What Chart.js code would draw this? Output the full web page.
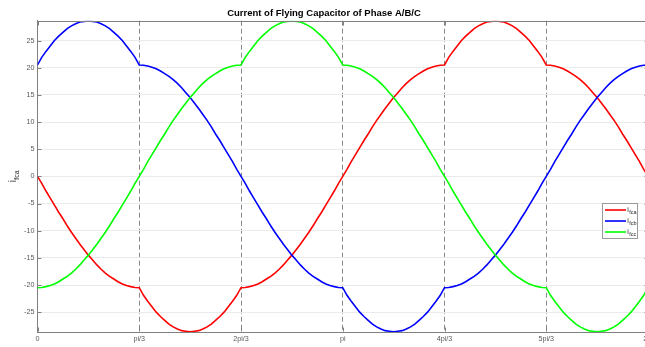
<!DOCTYPE html>
<html>
<head>
<meta charset="utf-8">
<title>Current of Flying Capacitor of Phase A/B/C</title>
<script src="https://cdn.jsdelivr.net/npm/chart.js@4.4.1/dist/chart.umd.min.js"></script>
<style>
  html, body { margin: 0; padding: 0; background: #fff; overflow: hidden; }
  #wrap { position: relative; width: 660px; height: 347px; }
  canvas { display: block; }
</style>
</head>
<body>
<div id="wrap"><canvas id="c" width="660" height="347"></canvas></div>
<script>
// Electrical angle in degrees (one full period, 2.5 degree steps)
const angleDeg = [
  0,2.5,5,7.5,10,12.5,15,17.5,20,22.5,25,27.5,
  30,32.5,35,37.5,40,42.5,45,47.5,50,52.5,55,57.5,
  60,62.5,65,67.5,70,72.5,75,77.5,80,82.5,85,87.5,
  90,92.5,95,97.5,100,102.5,105,107.5,110,112.5,115,117.5,
  120,122.5,125,127.5,130,132.5,135,137.5,140,142.5,145,147.5,
  150,152.5,155,157.5,160,162.5,165,167.5,170,172.5,175,177.5,
  180,182.5,185,187.5,190,192.5,195,197.5,200,202.5,205,207.5,
  210,212.5,215,217.5,220,222.5,225,227.5,230,232.5,235,237.5,
  240,242.5,245,247.5,250,252.5,255,257.5,260,262.5,265,267.5,
  270,272.5,275,277.5,280,282.5,285,287.5,290,292.5,295,297.5,
  300,302.5,305,307.5,310,312.5,315,317.5,320,322.5,325,327.5,
  330,332.5,335,337.5,340,342.5,345,347.5,350,352.5,355,357.5,
  360];

// Flying-capacitor current of phase A
const icaValues = [
  0,-1.3,-2.7,-4.0,-5.3,-6.6,-7.8,-9.1,-10.3,-11.4,-12.5,-13.5,
  -14.5,-15.4,-16.3,-17.1,-17.8,-18.4,-18.9,-19.4,-19.8,-20.1,-20.3,-20.45,
  -20.5,-21.9,-23.0,-24.0,-25.0,-25.8,-26.5,-27.2,-27.7,-28.1,-28.4,-28.5,
  -28.6,-28.5,-28.4,-28.1,-27.7,-27.2,-26.5,-25.8,-25.0,-24.0,-23.0,-21.9,
  -20.5,-20.45,-20.3,-20.1,-19.8,-19.4,-18.9,-18.4,-17.8,-17.1,-16.3,-15.4,
  -14.5,-13.5,-12.5,-11.4,-10.3,-9.1,-7.8,-6.6,-5.3,-4.0,-2.7,-1.3,
  0,1.3,2.7,4.0,5.3,6.6,7.8,9.1,10.3,11.4,12.5,13.5,
  14.5,15.4,16.3,17.1,17.8,18.4,18.9,19.4,19.8,20.1,20.3,20.45,
  20.5,21.9,23.0,24.0,25.0,25.8,26.5,27.2,27.7,28.1,28.4,28.5,
  28.6,28.5,28.4,28.1,27.7,27.2,26.5,25.8,25.0,24.0,23.0,21.9,
  20.5,20.45,20.3,20.1,19.8,19.4,18.9,18.4,17.8,17.1,16.3,15.4,
  14.5,13.5,12.5,11.4,10.3,9.1,7.8,6.6,5.3,4.0,2.7,1.3,
  0];

// Flying-capacitor current of phase B
const icbValues = [
  20.5,21.9,23.0,24.0,25.0,25.8,26.5,27.2,27.7,28.1,28.4,28.5,
  28.6,28.5,28.4,28.1,27.7,27.2,26.5,25.8,25.0,24.0,23.0,21.9,
  20.5,20.45,20.3,20.1,19.8,19.4,18.9,18.4,17.8,17.1,16.3,15.4,
  14.5,13.5,12.5,11.4,10.3,9.1,7.8,6.6,5.3,4.0,2.7,1.3,
  0,-1.3,-2.7,-4.0,-5.3,-6.6,-7.8,-9.1,-10.3,-11.4,-12.5,-13.5,
  -14.5,-15.4,-16.3,-17.1,-17.8,-18.4,-18.9,-19.4,-19.8,-20.1,-20.3,-20.45,
  -20.5,-21.9,-23.0,-24.0,-25.0,-25.8,-26.5,-27.2,-27.7,-28.1,-28.4,-28.5,
  -28.6,-28.5,-28.4,-28.1,-27.7,-27.2,-26.5,-25.8,-25.0,-24.0,-23.0,-21.9,
  -20.5,-20.45,-20.3,-20.1,-19.8,-19.4,-18.9,-18.4,-17.8,-17.1,-16.3,-15.4,
  -14.5,-13.5,-12.5,-11.4,-10.3,-9.1,-7.8,-6.6,-5.3,-4.0,-2.7,-1.3,
  0,1.3,2.7,4.0,5.3,6.6,7.8,9.1,10.3,11.4,12.5,13.5,
  14.5,15.4,16.3,17.1,17.8,18.4,18.9,19.4,19.8,20.1,20.3,20.45,
  20.5];

// Flying-capacitor current of phase C
const iccValues = [
  -20.5,-20.45,-20.3,-20.1,-19.8,-19.4,-18.9,-18.4,-17.8,-17.1,-16.3,-15.4,
  -14.5,-13.5,-12.5,-11.4,-10.3,-9.1,-7.8,-6.6,-5.3,-4.0,-2.7,-1.3,
  0,1.3,2.7,4.0,5.3,6.6,7.8,9.1,10.3,11.4,12.5,13.5,
  14.5,15.4,16.3,17.1,17.8,18.4,18.9,19.4,19.8,20.1,20.3,20.45,
  20.5,21.9,23.0,24.0,25.0,25.8,26.5,27.2,27.7,28.1,28.4,28.5,
  28.6,28.5,28.4,28.1,27.7,27.2,26.5,25.8,25.0,24.0,23.0,21.9,
  20.5,20.45,20.3,20.1,19.8,19.4,18.9,18.4,17.8,17.1,16.3,15.4,
  14.5,13.5,12.5,11.4,10.3,9.1,7.8,6.6,5.3,4.0,2.7,1.3,
  0,-1.3,-2.7,-4.0,-5.3,-6.6,-7.8,-9.1,-10.3,-11.4,-12.5,-13.5,
  -14.5,-15.4,-16.3,-17.1,-17.8,-18.4,-18.9,-19.4,-19.8,-20.1,-20.3,-20.45,
  -20.5,-21.9,-23.0,-24.0,-25.0,-25.8,-26.5,-27.2,-27.7,-28.1,-28.4,-28.5,
  -28.6,-28.5,-28.4,-28.1,-27.7,-27.2,-26.5,-25.8,-25.0,-24.0,-23.0,-21.9,
  -20.5];

// Axis ticks and labels
const xTickValues = [0, 60, 120, 180, 240, 300, 360];
const xTickLabels = ['0', 'pi/3', '2pi/3', 'pi', '4pi/3', '5pi/3', '2pi'];
const yTickValues = [-25, -20, -15, -10, -5, 0, 5, 10, 15, 20, 25];

// Series naming: i with subscript
const seriesSubs = ['fca', 'fcb', 'fcc'];
const seriesColors = ['#ff0000', '#0000ff', '#00ff00'];
const titleText = 'Current of Flying Capacitor of Phase A/B/C';
const yLabelSub = 'fca';

const FONT = "'Liberation Sans', Arial, Helvetica, sans-serif";
const AXIS = '#808080';
const TICK_TEXT = '#595959';

const toPoints = vals => angleDeg.map((a, i) => ({ x: a, y: vals[i] }));

// draws "i" followed by a lowered, smaller subscript
function drawSubscripted(ctx, x, y, sub, mainSize, subSize, drop, color) {
  ctx.fillStyle = color;
  ctx.textBaseline = 'alphabetic';
  ctx.textAlign = 'left';
  ctx.font = mainSize + 'px ' + FONT;
  ctx.fillText('i', x, y);
  const w = ctx.measureText('i').width;
  ctx.font = subSize + 'px ' + FONT;
  ctx.fillText(sub, x + w + 0.3, y + drop);
  return w + 0.3 + ctx.measureText(sub).width;
}

const decorPlugin = {
  id: 'decor',
  afterDraw(chart) {
    const { ctx, chartArea: a, scales: { x, y } } = chart;
    const L = Math.round(a.left) + 0.5 - 1, R = Math.round(a.right) + 0.5;
    const T = Math.round(a.top) + 0.5, B = Math.round(a.bottom) - 0.5;
    ctx.save();
    ctx.strokeStyle = AXIS;
    ctx.lineWidth = 1;
    // top and right edges of the axes box
    ctx.beginPath();
    ctx.moveTo(L, T); ctx.lineTo(R, T); ctx.lineTo(R, B);
    ctx.stroke();
    // inward tick marks on all four sides
    ctx.beginPath();
    yTickValues.forEach(v => {
      const py = Math.round(y.getPixelForValue(v)) + 0.5;
      ctx.moveTo(L, py); ctx.lineTo(L + 4, py);
      ctx.moveTo(R, py); ctx.lineTo(R - 4, py);
    });
    xTickValues.forEach(v => {
      const px = Math.round(x.getPixelForValue(v)) + 0.5;
      ctx.moveTo(px, B); ctx.lineTo(px, B - 4);
      ctx.moveTo(px, T); ctx.lineTo(px, T + 4);
    });
    ctx.stroke();

    // rotated y-axis label
    ctx.save();
    ctx.font = '10px ' + FONT;
    const wMain = ctx.measureText('i').width;
    ctx.font = '7px ' + FONT;
    const wSub = ctx.measureText(yLabelSub).width;
    const total = wMain + 0.3 + wSub;
    ctx.translate(16, (a.top + a.bottom) / 2);
    ctx.rotate(-Math.PI / 2);
    drawSubscripted(ctx, -total / 2, 0, yLabelSub, 10, 7, 2.5, '#262626');
    ctx.restore();

    // legend box
    const bx = 602.5, by = 203.5, bw = 35, bh = 35;
    ctx.fillStyle = '#ffffff';
    ctx.fillRect(bx, by, bw, bh);
    ctx.strokeStyle = '#9a9a9a';
    ctx.strokeRect(bx, by, bw, bh);
    chart.data.datasets.forEach((ds, i) => {
      const ly = 210 + i * 11;
      ctx.strokeStyle = ds.borderColor;
      ctx.lineWidth = 1.6;
      ctx.beginPath();
      ctx.moveTo(605, ly); ctx.lineTo(626, ly);
      ctx.stroke();
      drawSubscripted(ctx, 627.3, ly + 2.3, seriesSubs[i], 7, 5.5, 2, '#262626');
    });
    ctx.restore();
  }
};

new Chart(document.getElementById('c'), {
  type: 'line',
  data: {
    datasets: [0, 1, 2].map(i => ({
      label: 'i' + seriesSubs[i],
      data: toPoints([icaValues, icbValues, iccValues][i]),
      borderColor: seriesColors[i],
      backgroundColor: seriesColors[i],
      borderWidth: 1.6,
      pointRadius: 0,
      tension: 0,
      fill: false,
      order: 3 - i
    }))
  },
  options: {
    responsive: false,
    animation: false,
    devicePixelRatio: 1,
    layout: { padding: { left: 0, right: 12, top: 0, bottom: 0 } },
    plugins: {
      legend: { display: false },
      tooltip: { enabled: false },
      title: {
        display: true,
        text: titleText,
        color: '#000',
        font: { family: FONT, size: 9.5, weight: 'bold', lineHeight: 1.2 },
        padding: { top: 8, bottom: 1.3 }
      }
    },
    scales: {
      x: {
        type: 'linear',
        min: 0,
        max: 360,
        afterBuildTicks: s => { s.ticks = xTickValues.map(v => ({ value: v })); },
        afterFit: s => { s.height = 15; },
        ticks: {
          autoSkip: false,
          maxRotation: 0,
          padding: 3,
          color: TICK_TEXT,
          font: { family: FONT, size: 7.2 },
          callback: (v, i) => xTickLabels[i]
        },
        grid: {
          drawTicks: false,
          lineWidth: 1,
          color: c => (c.tick && (c.tick.value === 0 || c.tick.value === 360)) ? 'rgba(0,0,0,0)' : '#8a8a8a'
        },
        border: { display: true, color: AXIS, width: 1, dash: [5, 3] }
      },
      y: {
        type: 'linear',
        min: -28.65,
        max: 28.65,
        afterBuildTicks: s => { s.ticks = yTickValues.map(v => ({ value: v })); },
        afterFit: s => { s.width = 37.5; },
        ticks: {
          padding: 3,
          color: TICK_TEXT,
          font: { family: FONT, size: 7.2 },
          callback: v => String(v)
        },
        grid: { drawTicks: false, lineWidth: 1, color: '#ebebeb' },
        border: { display: true, color: AXIS, width: 1 }
      }
    }
  },
  plugins: [decorPlugin]
});
</script>
</body>
</html>
